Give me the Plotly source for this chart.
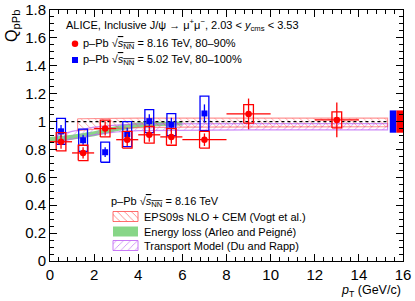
import plotly.graph_objects as go

# ---------------- data ----------------
red_x = [0.5, 1.5, 2.5, 3.5, 4.5, 5.5, 7.0, 9.0, 13.0]
red_y = [0.855, 0.775, 0.95, 0.87, 0.905, 0.89, 0.87, 1.055, 1.012]
red_stat = [0.05, 0.04, 0.05, 0.045, 0.05, 0.05, 0.045, 0.11, 0.125]
red_xerr = [0.5, 0.5, 0.5, 0.5, 0.5, 0.5, 1.0, 1.0, 1.0]
red_syst = [0.065, 0.055, 0.06, 0.06, 0.06, 0.06, 0.06, 0.066, 0.058]

blue_x = [0.5, 1.5, 2.5, 3.5, 4.5, 5.5, 7.0]
blue_y = [0.93, 0.866, 0.78, 0.91, 1.003, 0.978, 1.058]
blue_stat = [0.045, 0.04, 0.035, 0.045, 0.05, 0.05, 0.065]
blue_syst = [0.093, 0.08, 0.072, 0.09, 0.082, 0.079, 0.124]

glob_red = 0.08
glob_blue = 0.08

eps_x = [1.25, 2.0, 3.0, 4.0, 6.0, 9.0, 12.0, 15.3]
eps_lo = [0.935, 0.945, 0.952, 0.957, 0.96, 0.962, 0.963, 0.963]
eps_hi = [1.02, 1.022, 1.023, 1.024, 1.024, 1.024, 1.024, 1.024]

eloss_x = [0.0, 1.0, 2.0, 3.0, 4.0, 5.0, 6.0]
eloss_lo = [0.855, 0.87, 0.895, 0.93, 0.958, 0.968, 0.972]
eloss_hi = [0.89, 0.905, 0.93, 0.968, 0.995, 1.0, 1.0]

tm_x = [0.3, 1.0, 2.0, 3.0, 4.0, 6.0, 9.0, 15.3]
tm_lo = [0.85, 0.875, 0.905, 0.925, 0.935, 0.94, 0.94, 0.94]
tm_hi = [0.9, 0.93, 0.96, 0.975, 0.983, 0.985, 0.985, 0.985]

W, H = 415, 301
ML, MR, MT, MB = 50, 12, 10, 40
FONT = "Liberation Sans, Arial, Helvetica, sans-serif"

RED = "rgb(255,0,0)"
BLUE = "rgb(0,0,255)"
GREEN = "rgb(135,214,135)"


def px2paper(px, py):
    return (px - ML) / (W - ML - MR), 1 - (py - MT) / (H - MT - MB)


def box_path(xc, yc, hw, hh):
    xs, ys = [], []
    for x, y, h in zip(xc, yc, hh):
        xs += [x - hw, x + hw, x + hw, x - hw, x - hw, None]
        ys += [y - h, y - h, y + h, y + h, y - h, None]
    return xs, ys


fig = go.Figure()


def band(x, lo, hi, line_color, fill_color=None, pattern=None, line_w=1.0):
    xs = list(x) + list(x)[::-1] + [x[0]]
    ys = list(hi) + list(lo)[::-1] + [hi[0]]
    kw = {}
    if pattern:
        kw["fillpattern"] = dict(shape=pattern, fgcolor=line_color, bgcolor="rgba(0,0,0,0)",
                                 size=5, solidity=0.15)
        kw["fillcolor"] = "rgba(0,0,0,0)"
    else:
        kw["fillcolor"] = fill_color
    fig.add_trace(go.Scatter(x=xs, y=ys, mode="lines", fill="toself",
                             line=dict(color=line_color if line_w > 0 else "rgba(0,0,0,0)", width=line_w),
                             hoverinfo="skip", showlegend=False, **kw))


# model bands
band(eloss_x, eloss_lo, eloss_hi, "rgba(0,0,0,0)", fill_color=GREEN, line_w=0)
band(tm_x, tm_lo, tm_hi, "rgba(190,100,245,0.75)", pattern="/", line_w=1.2)
band(eps_x, eps_lo, eps_hi, "rgba(255,60,60,0.55)", pattern="\\", line_w=1.2)

# dotted unity line
fig.add_trace(go.Scatter(x=[0.7, 15.35], y=[1, 1], mode="lines",
                         line=dict(color="black", width=1.2, dash="dot"),
                         hoverinfo="skip", showlegend=False))

# blue data
bx, by = box_path(blue_x, blue_y, 0.2, blue_syst)
fig.add_trace(go.Scatter(x=bx, y=by, mode="lines", line=dict(color=BLUE, width=1.3),
                         hoverinfo="skip", showlegend=False))
fig.add_trace(go.Scatter(x=blue_x, y=blue_y, mode="markers",
                         marker=dict(symbol="square", size=6, color=BLUE),
                         error_y=dict(type="data", array=blue_stat, color=BLUE, thickness=1.3, width=0),
                         showlegend=False))

# red data
rx, ry = box_path(red_x, red_y, 0.22, red_syst)
fig.add_trace(go.Scatter(x=rx, y=ry, mode="lines", line=dict(color=RED, width=1.3),
                         hoverinfo="skip", showlegend=False))
fig.add_trace(go.Scatter(x=red_x, y=red_y, mode="markers",
                         marker=dict(symbol="circle", size=6.5, color=RED),
                         error_y=dict(type="data", array=red_stat, color=RED, thickness=1.3, width=0),
                         error_x=dict(type="data", array=red_xerr, color=RED, thickness=1.3, width=0),
                         showlegend=False))

# global uncertainty boxes
fig.add_trace(go.Scatter(x=[15.4, 15.7, 15.7, 15.4, 15.4], y=[1 - glob_blue, 1 - glob_blue, 1 + glob_blue, 1 + glob_blue, 1 - glob_blue],
                         mode="lines", fill="toself", fillcolor=BLUE, line=dict(width=0, color=BLUE),
                         hoverinfo="skip", showlegend=False))
fig.add_trace(go.Scatter(x=[15.7, 16.0, 16.0, 15.7, 15.7], y=[1 - glob_red, 1 - glob_red, 1 + glob_red, 1 + glob_red, 1 - glob_red],
                         mode="lines", fill="toself", fillcolor=RED, line=dict(width=0, color=RED),
                         hoverinfo="skip", showlegend=False))


# ---------------- legend drawings (overlay axis in pixel units) ----------------
def legend_box(x0, y0, x1, y1, line_color, fill_color=None, pattern=None, line_w=1.0):
    kw = {}
    if pattern:
        kw["fillpattern"] = dict(shape=pattern, fgcolor=line_color, bgcolor="rgba(0,0,0,0)",
                                 size=5, solidity=0.15)
        kw["fillcolor"] = "rgba(0,0,0,0)"
    else:
        kw["fillcolor"] = fill_color
    fig.add_trace(go.Scatter(x=[x0, x1, x1, x0, x0], y=[y0, y0, y1, y1, y0], mode="lines",
                             fill="toself", xaxis="x2", yaxis="y2",
                             line=dict(color=line_color, width=line_w),
                             hoverinfo="skip", showlegend=False, **kw))


legend_box(113, 211.5, 138, 221.5, "rgba(255,60,60,0.75)", pattern="\\")
legend_box(113, 226.5, 138, 236.5, GREEN, fill_color=GREEN, line_w=0)
legend_box(113, 240.5, 138, 250.5, "rgba(190,100,245,0.85)", pattern="/")

fig.add_trace(go.Scatter(x=[75], y=[43.7], mode="markers", xaxis="x2", yaxis="y2",
                         marker=dict(symbol="circle", size=6.5, color=RED), showlegend=False, hoverinfo="skip"))
fig.add_trace(go.Scatter(x=[75], y=[60], mode="markers", xaxis="x2", yaxis="y2",
                         marker=dict(symbol="square", size=6, color=BLUE), showlegend=False, hoverinfo="skip"))

SQ = "√<span style='text-decoration:overline'><i>s</i><sub>NN</sub></span>"

annotations = []


def txt(px, py, text, size=10.5, xanchor="left", yanchor="middle", angle=0):
    x, y = px2paper(px, py)
    annotations.append(dict(x=x, y=y, xref="paper", yref="paper", text=text, showarrow=False,
                            xanchor=xanchor, yanchor=yanchor, textangle=angle, borderpad=0,
                            font=dict(family=FONT, size=size, color="black")))


txt(65, 25, "ALICE, Inclusive J/ψ → μ<sup>+</sup>μ<sup>−</sup>, 2.03 < <i>y</i><sub>cms</sub> < 3.53", size=11)
txt(82, 43.7, "p–Pb " + SQ + " = 8.16 TeV, 80–90%", size=11)
txt(82, 60, "p–Pb " + SQ + " = 5.02 TeV, 80–100%", size=11)
txt(110, 202, "p–Pb " + SQ + " = 8.16 TeV", size=11)
txt(143, 216.5, "EPS09s NLO + CEM (Vogt et al.)", size=11)
txt(143, 231.5, "Energy loss (Arleo and Peigné)", size=11)
txt(143, 245.5, "Transport Model (Du and Rapp)", size=11)
txt(402, 300, "<i>p</i><sub>T</sub> (GeV/c)", size=12.5, xanchor="right", yanchor="bottom")
txt(12, 9, "Q<sub>pPb</sub>", size=16, xanchor="center", yanchor="top", angle=-90)

axis_common = dict(ticks="inside", ticklen=7, tickwidth=1, tickcolor="black",
                   showline=True, linecolor="black", linewidth=1, mirror="allticks",
                   showgrid=False, zeroline=False, automargin=False,
                   tickfont=dict(family=FONT, size=15, color="black"))

fig.update_layout(
    template="none",
    width=W, height=H,
    margin=dict(l=ML, r=MR, t=MT, b=MB, pad=0),
    plot_bgcolor="white", paper_bgcolor="white",
    font=dict(family=FONT, size=14, color="black"),
    showlegend=False,
    annotations=annotations,
    xaxis=dict(range=[0, 16], tick0=0, dtick=2,
               minor=dict(dtick=0.4, ticks="inside", ticklen=4, tickcolor="black", showgrid=False),
               **axis_common),
    yaxis=dict(range=[0, 1.8], tick0=0, dtick=0.2,
               minor=dict(dtick=0.05, ticks="inside", ticklen=4, tickcolor="black", showgrid=False),
               **axis_common),
    xaxis2=dict(range=[ML, W - MR], overlaying="x", visible=False, showgrid=False,
                zeroline=False, automargin=False),
    yaxis2=dict(range=[H - MB, MT], overlaying="y", visible=False, showgrid=False,
                zeroline=False, automargin=False),
)

fig.write_html("out.html", config={"displayModeBar": False, "staticPlot": True},
               post_script="document.body.style.margin='0';document.body.style.padding='0';")
